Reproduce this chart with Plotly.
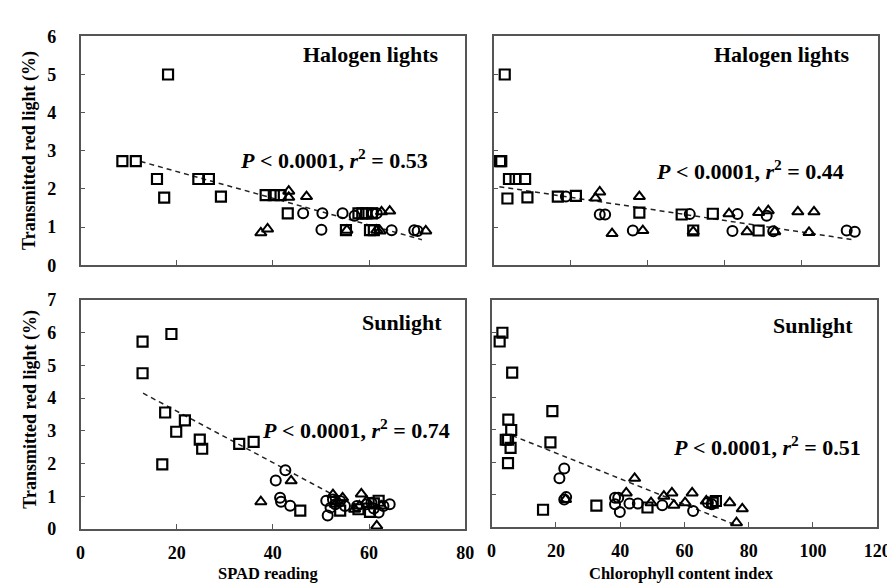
import plotly.graph_objects as go

# ---------------- data ----------------
# Halogen lights vs SPAD reading (top-left)
hs_sq_x = [18.2, 8.7, 11.5, 15.9, 17.4, 24.5, 26.7, 29.2, 38.5, 40.2, 41.6, 43.1, 55.2, 57.8, 58.6, 59.4, 60.2, 61.0, 60.6]
hs_sq_y = [5.0, 2.73, 2.73, 2.26, 1.77, 2.26, 2.26, 1.80, 1.84, 1.84, 1.84, 1.36, 0.92, 1.36, 1.36, 1.36, 0.92, 0.92, 1.36]
hs_ci_x = [46.3, 50.1, 50.3, 54.5, 57.0, 60.8, 61.6, 64.7, 69.4, 70.1]
hs_ci_y = [1.36, 0.93, 1.36, 1.36, 1.30, 1.36, 1.36, 0.92, 0.92, 0.90]
hs_tr_x = [37.5, 38.9, 43.3, 43.3, 47.0, 55.4, 61.6, 62.3, 62.6, 64.3, 71.8]
hs_tr_y = [0.85, 0.95, 1.94, 1.78, 1.80, 0.92, 0.92, 0.90, 1.40, 1.42, 0.90]
hs_fit_x = [12.5, 71.0]
hs_fit_y = [2.72, 0.67]

# Halogen lights vs chlorophyll content index (top-right)
hc_sq_x = [2.9, 1.7, 2.0, 4.0, 5.7, 8.2, 3.6, 8.8, 16.7, 21.4, 37.9, 48.9, 51.9, 57.0, 68.9]
hc_sq_y = [5.0, 2.73, 2.73, 2.26, 2.26, 2.26, 1.75, 1.78, 1.80, 1.82, 1.38, 1.33, 0.91, 1.35, 0.91]
hc_ci_x = [18.8, 27.6, 29.0, 36.2, 51.0, 62.1, 63.4, 71.0, 72.7, 91.8, 93.9]
hc_ci_y = [1.80, 1.33, 1.33, 0.91, 1.34, 0.90, 1.34, 1.30, 0.89, 0.91, 0.88]
hc_tr_x = [26.5, 27.6, 37.9, 30.8, 38.8, 51.9, 61.2, 65.9, 68.9, 71.4, 73.1, 79.1, 83.3, 82.0]
hc_tr_y = [1.76, 1.92, 1.80, 0.83, 0.91, 0.88, 1.35, 0.88, 1.38, 1.43, 0.88, 1.40, 1.40, 0.86]
hc_fit_x = [1.5, 94.0]
hc_fit_y = [2.06, 0.66]

# Sunlight vs SPAD reading (bottom-left)
ss_sq_x = [12.9, 18.9, 12.9, 17.6, 21.7, 19.9, 24.8, 25.3, 17.0, 33.0, 36.0, 45.7, 54.0, 57.8, 60.2, 62.0, 61.0]
ss_sq_y = [5.73, 5.96, 4.76, 3.56, 3.32, 2.97, 2.73, 2.45, 1.97, 2.60, 2.66, 0.56, 0.56, 0.60, 0.52, 0.86, 0.78]
ss_ci_x = [42.6, 40.6, 41.5, 41.7, 43.6, 51.4, 51.1, 52.0, 53.0, 54.0, 55.0, 57.5, 59.5, 61.0, 62.0, 63.0, 64.3, 52.5, 60.5]
ss_ci_y = [1.79, 1.48, 0.95, 0.83, 0.71, 0.41, 0.86, 0.65, 0.75, 0.85, 0.70, 0.70, 0.75, 0.62, 0.50, 0.70, 0.75, 0.90, 0.80]
ss_tr_x = [37.5, 43.8, 52.5, 53.5, 54.5, 53.0, 58.4, 58.0, 59.5, 61.6, 57.0, 62.5]
ss_tr_y = [0.83, 1.47, 1.05, 0.85, 0.95, 0.75, 1.07, 0.70, 0.85, 0.09, 0.60, 0.70]
ss_fit_x = [13.0, 55.0]
ss_fit_y = [4.15, 0.85]

# Sunlight vs chlorophyll content index (bottom-right)
sc_sq_x = [3.35, 2.5, 6.4, 5.2, 6.1, 4.4, 5.1, 5.9, 18.9, 18.3, 5.1, 16.0, 32.6, 48.5, 69.8, 68.8]
sc_sq_y = [5.99, 5.72, 4.76, 3.31, 2.99, 2.69, 2.69, 2.44, 3.57, 2.61, 1.97, 0.53, 0.66, 0.60, 0.80, 0.75]
sc_ci_x = [22.6, 21.1, 22.6, 23.2, 38.4, 39.4, 39.9, 38.4, 42.9, 45.5, 53.1, 62.7, 67.3, 68.5]
sc_ci_y = [1.80, 1.50, 0.85, 0.92, 0.90, 0.90, 0.46, 0.70, 0.72, 0.72, 0.67, 0.49, 0.75, 0.70]
sc_tr_x = [44.5, 41.9, 49.6, 53.6, 56.1, 56.7, 60.2, 62.4, 66.8, 74.1, 78.0, 76.2, 23.0]
sc_tr_y = [1.50, 1.05, 0.75, 0.95, 1.05, 0.67, 0.75, 1.05, 0.80, 0.75, 0.56, 0.13, 0.85]
sc_fit_x = [6.4, 76.0]
sc_fit_y = [2.82, 0.06]

# tick labels
y_ticks_top = [0, 1, 2, 3, 4, 5, 6]
y_ticks_bottom = [0, 1, 2, 3, 4, 5, 6, 7]
x_ticks_spad = [0, 20, 40, 60, 80]
x_ticks_cci_top = [0, 20, 40, 60, 80, 100]
x_ticks_cci = [0, 20, 40, 60, 80, 100, 120]

panel_titles = ["Halogen lights", "Halogen lights", "Sunlight", "Sunlight"]
r2_values = ["0.53", "0.44", "0.74", "0.51"]
y_title = "Transmitted red light (%)"
x_titles = ["SPAD reading", "Chlorophyll content index"]

# ---------------- figure ----------------
W, H = 895, 584
FONT = "Liberation Serif"

def px(x):
    return x / W

def py(y):
    return 1 - y / H

def bold(vals):
    return ["<b>%s</b>" % v for v in vals]

fig = go.Figure()

panels = [
    ("x", "y", hs_sq_x, hs_sq_y, hs_ci_x, hs_ci_y, hs_tr_x, hs_tr_y, hs_fit_x, hs_fit_y),
    ("x2", "y2", hc_sq_x, hc_sq_y, hc_ci_x, hc_ci_y, hc_tr_x, hc_tr_y, hc_fit_x, hc_fit_y),
    ("x3", "y3", ss_sq_x, ss_sq_y, ss_ci_x, ss_ci_y, ss_tr_x, ss_tr_y, ss_fit_x, ss_fit_y),
    ("x4", "y4", sc_sq_x, sc_sq_y, sc_ci_x, sc_ci_y, sc_tr_x, sc_tr_y, sc_fit_x, sc_fit_y),
]

for xa, ya, sqx, sqy, cix, ciy, trx, try_, fx, fy in panels:
    fig.add_trace(go.Scatter(x=fx, y=fy, mode="lines", xaxis=xa, yaxis=ya,
                             line=dict(color="#222", width=1.5, dash="5px,4px"),
                             showlegend=False, hoverinfo="skip"))
    fig.add_trace(go.Scatter(x=sqx, y=sqy, mode="markers", xaxis=xa, yaxis=ya,
                             marker=dict(symbol="square-open", size=10, color="black",
                                         line=dict(width=2.2, color="black")),
                             showlegend=False))
    fig.add_trace(go.Scatter(x=cix, y=ciy, mode="markers", xaxis=xa, yaxis=ya,
                             marker=dict(symbol="circle-open", size=10, color="black",
                                         line=dict(width=2, color="black")),
                             showlegend=False))
    fig.add_trace(go.Scatter(x=trx, y=try_, mode="markers", xaxis=xa, yaxis=ya,
                             marker=dict(symbol="triangle-up-open", size=10, color="black",
                                         line=dict(width=2, color="black")),
                             showlegend=False))

axis_common = dict(showline=True, linecolor="#555", linewidth=1.5, mirror=True,
                   showgrid=False, zeroline=False, ticks="inside", ticklen=5,
                   tickcolor="#555", tickwidth=1, tickmode="array",
                   tickfont=dict(family=FONT, size=18, color="black", weight=700))

dom = {
    "TL": ((69, 462), (19, 256)),
    "TR": ((491, 884), (19, 256)),
    "BL": ((69, 462), (292, 529)),
    "BR": ((489, 883), (292, 527)),
}

def xd(k):
    a, b = dom[k][0]
    return [px(a), px(b)]

def yd(k):
    a, b = dom[k][1]
    return [py(b), py(a)]

fig.update_layout(
    xaxis=dict(domain=xd("TL"), anchor="y", range=[0, 80], tickvals=x_ticks_spad,
               showticklabels=False, **axis_common),
    yaxis=dict(domain=yd("TL"), anchor="x", range=[0, 6], tickvals=y_ticks_top,
               ticktext=bold(y_ticks_top), ticklabelstandoff=19, **axis_common),
    xaxis2=dict(domain=xd("TR"), anchor="y2", range=[0, 100], tickvals=x_ticks_cci_top,
                showticklabels=False, **axis_common),
    yaxis2=dict(domain=yd("TR"), anchor="x2", range=[0, 6], tickvals=y_ticks_top,
                showticklabels=False, **axis_common),
    xaxis3=dict(domain=xd("BL"), anchor="y3", range=[0, 80], tickvals=x_ticks_spad,
                ticktext=bold(x_ticks_spad), ticklabelstandoff=7, **axis_common),
    yaxis3=dict(domain=yd("BL"), anchor="x3", range=[0, 7], tickvals=y_ticks_bottom,
                ticktext=bold(y_ticks_bottom), ticklabelstandoff=19, **axis_common),
    xaxis4=dict(domain=xd("BR"), anchor="y4", range=[0, 120], tickvals=x_ticks_cci,
                ticktext=bold(x_ticks_cci), ticklabelstandoff=7, **axis_common),
    yaxis4=dict(domain=yd("BR"), anchor="x4", range=[0, 7], tickvals=y_ticks_bottom,
                showticklabels=False, **axis_common),
    width=W, height=H,
    margin=dict(l=0, r=0, t=0, b=0),
    paper_bgcolor="white", plot_bgcolor="white",
    font=dict(family=FONT, color="black"),
)

ann = []
title_pos = [(437, 38), (857, 38), (440, 315), (860, 318)]
p_pos = [(426, 146), (851, 157), (449, 426), (868, 443)]
for t, (x, y) in zip(panel_titles, title_pos):
    ann.append(dict(text="<b>%s</b>" % t, x=px(x), y=py(y), xref="paper", yref="paper",
                    xanchor="right", yanchor="middle", showarrow=False,
                    font=dict(family=FONT, size=22, color="black")))
for r, (x, y) in zip(r2_values, p_pos):
    ann.append(dict(text="<b><i>P</i> < 0.0001, <i>r</i><sup>2</sup> = %s</b>" % r,
                    x=px(x), y=py(y), xref="paper", yref="paper",
                    xanchor="right", yanchor="middle", showarrow=False,
                    font=dict(family=FONT, size=22, color="black")))
for yc in (137, 405):
    ann.append(dict(text="<b>%s</b>" % y_title, x=px(17), y=py(yc), xref="paper", yref="paper",
                    xanchor="center", yanchor="middle", textangle=-90, showarrow=False,
                    font=dict(family=FONT, size=18, color="black")))
for t, xc in zip(x_titles, (261, 683)):
    ann.append(dict(text="<b>%s</b>" % t, x=px(xc), y=py(575), xref="paper", yref="paper",
                    xanchor="center", yanchor="middle", showarrow=False,
                    font=dict(family=FONT, size=16.5, color="black")))
fig.update_layout(annotations=ann)

fig.write_html("out.html")
